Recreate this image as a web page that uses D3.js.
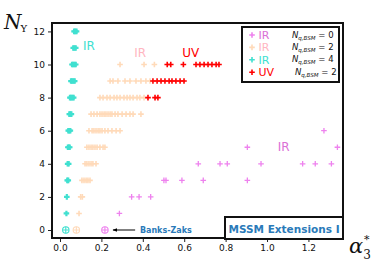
<!DOCTYPE html>
<html><head><meta charset="utf-8">
<script src="https://cdn.jsdelivr.net/npm/d3@7"></script>
<style>body{margin:0;background:#fff}svg{display:block}</style>
</head><body>
<svg id="c" width="374" height="280"></svg>
<script>
// ---- data: [alpha3*, N_Y] ----
const irN0 = [[1.275,6],[0.905,5],[1.34,5],[0.668,4],[0.773,4],[0.808,4],[0.971,4],[1.172,4],[1.233,4],[1.311,4],
  [0.502,3],[0.512,3],[0.589,3],[0.692,3],[0.905,3],[0.346,2],[0.382,2],[0.438,2],[0.287,1]];
const irN2 = [[0.29,10],[0.406,10],[0.456,10],
  [0.242,9],[0.256,9],[0.28,9],[0.314,9],[0.338,9],[0.367,9],[0.391,9],[0.415,9],[0.435,9],
  [0.193,8],[0.208,8],[0.227,8],[0.242,8],[0.261,8],[0.275,8],[0.29,8],[0.309,8],[0.324,8],[0.338,8],[0.353,8],[0.372,8],[0.386,8],[0.406,8],
  [0.150,7],[0.164,7],[0.179,7],[0.193,7],[0.203,7],[0.213,7],[0.222,7],[0.232,7],[0.242,7],[0.251,7],[0.266,7],[0.28,7],[0.3,7],[0.319,7],[0.338,7],[0.353,7],[0.391,7],
  [0.14,6],[0.155,6],[0.164,6],[0.174,6],[0.184,6],[0.193,6],[0.203,6],[0.217,6],[0.232,6],[0.251,6],[0.271,6],[0.29,6],
  [0.13,5],[0.14,5],[0.15,5],[0.159,5],[0.169,5],[0.179,5],[0.193,5],[0.208,5],[0.217,5],
  [0.121,4],[0.13,4],[0.14,4],[0.15,4],[0.159,4],[0.174,4],
  [0.106,3],[0.116,3],[0.126,3],[0.135,3],[0.145,3],[0.100,2],[0.108,2],[0.092,1]];
const irN4 = [[0.068,12],[0.074,12],[0.08,12],[0.064,11],[0.07,11],[0.076,11],[0.058,10],[0.064,10],[0.07,10],[0.076,10],
  [0.053,9],[0.059,9],[0.065,9],[0.071,9],[0.048,8],[0.054,8],[0.06,8],[0.066,8],[0.045,7],[0.05,7],[0.055,7],
  [0.04,6],[0.045,6],[0.05,6],[0.038,5],[0.043,5],[0.047,5],[0.037,4],[0.042,4],[0.035,3],[0.04,3],[0.033,2],[0.031,1]];
const uvN2 = [[0.518,10],[0.535,10],[0.596,10],[0.657,10],[0.676,10],[0.696,10],[0.715,10],[0.734,10],[0.754,10],[0.768,10],
  [0.449,9],[0.469,9],[0.488,9],[0.507,9],[0.527,9],[0.541,9],[0.560,9],[0.580,9],[0.599,9],
  [0.425,8],[0.459,8],[0.473,8]];
const banksZaks = [[0.028,0,"turquoise"],[0.079,0,"peachpuff"],[0.217,0,"violet"]];
const xTicks = [0.0,0.2,0.4,0.6,0.8,1.0,1.2];
const yTicks = [0,2,4,6,8,10,12];
const legendRows = [
  {sym:"violet", lab:"IR", labCol:"orchid", n:"0"},
  {sym:"peachpuff", lab:"IR", labCol:"lightpink", n:"2"},
  {sym:"turquoise", lab:"IR", labCol:"turquoise", n:"4"},
  {sym:"red", lab:"UV", labCol:"red", n:"2"}];

const svg = d3.select("#c");
const L=52, R=343, T=23, B=238;
const x = d3.scaleLinear().domain([-0.0386,1.367]).range([L,R]);
const y = d3.scaleLinear().domain([-0.483,12.508]).range([B,T]);
const plus = "M-2.8,0H2.8M0,-2.8V2.8";

// axes
const gx = svg.append("g").attr("transform",`translate(0,${B})`)
  .call(d3.axisBottom(x).tickValues(xTicks).tickFormat(d3.format(".1f")).tickSize(4).tickPadding(3));
const gy = svg.append("g").attr("transform",`translate(${L},0)`)
  .call(d3.axisLeft(y).tickValues(yTicks).tickSize(4).tickPadding(3));
[gx,gy].forEach(g=>{g.select(".domain").remove();
  g.selectAll("text").attr("font-family","DejaVu Sans").attr("font-size",9).attr("fill","#111");
  g.selectAll("line").attr("stroke","#222");});

function series(data,col,sw){
  svg.append("g").selectAll("path").data(data).join("path")
    .attr("d",plus).attr("transform",d=>`translate(${x(d[0])},${y(d[1])})`)
    .attr("fill","none").attr("stroke",col).attr("stroke-width",sw);
}
series(irN0,"violet",1.3);
series(irN2,"peachpuff",1.6);
series(irN4,"turquoise",2.2);
series(uvN2,"red",1.6);

// Banks-Zaks circled plus
const bz = svg.append("g").selectAll("g").data(banksZaks).join("g")
  .attr("transform",d=>`translate(${x(d[0])},${y(d[1])})`);
bz.append("circle").attr("r",3.2).attr("fill","none").attr("stroke",d=>d[2]).attr("stroke-width",1.1);
bz.append("path").attr("d","M-3.2,0H3.2M0,-3.2V3.2").attr("stroke",d=>d[2]).attr("stroke-width",1.1);

// arrow
svg.append("defs").append("marker").attr("id","ah").attr("viewBox","0 0 10 10").attr("refX",9).attr("refY",5)
  .attr("markerWidth",5).attr("markerHeight",5).attr("orient","auto")
  .append("path").attr("d","M0,1L10,5L0,9z").attr("fill","#000");
svg.append("line").attr("x1",x(0.363)).attr("x2",x(0.256)).attr("y1",y(0)).attr("y2",y(0))
  .attr("stroke","#000").attr("stroke-width",1).attr("marker-end","url(#ah)");
svg.append("text").attr("x",x(0.386)).attr("y",y(0)+3).text("Banks-Zaks")
  .attr("font-family","DejaVu Sans").attr("font-weight","bold").attr("font-size",8).attr("fill","#2a7ab9");

// region labels
const lab=(t,xv,yv,c)=>svg.append("text").attr("x",x(xv)).attr("y",y(yv)).attr("text-anchor","middle")
  .attr("dominant-baseline","central").attr("font-family","DejaVu Sans").attr("font-size",12).attr("fill",c).text(t);
lab("IR",0.14,11.1,"turquoise");
lab("IR",0.387,10.68,"lightpink");
lab("UV",0.631,10.68,"red");
lab("IR",1.08,5.0,"orchid");

// frame
svg.append("rect").attr("x",L).attr("y",T).attr("width",R-L).attr("height",B-T)
  .attr("fill","none").attr("stroke","#111").attr("stroke-width",2);

// legend
const lg = svg.append("g");
lg.append("rect").attr("x",242).attr("y",27).attr("width",97).attr("height",55)
  .attr("fill","#fff").attr("stroke","#111").attr("stroke-width",2);
legendRows.forEach((r,i)=>{
  const yy = 35 + i*12.4;
  lg.append("path").attr("d",plus).attr("transform",`translate(252,${yy})`).attr("fill","none")
    .attr("stroke",r.sym).attr("stroke-width",1.6);
  lg.append("text").attr("x",258.5).attr("y",yy+4).attr("font-family","DejaVu Sans")
    .attr("font-size",11).attr("fill",r.labCol).text(r.lab);
  const t = lg.append("text").attr("x",i===3?295:292).attr("y",yy+2.5).attr("font-family","DejaVu Sans")
    .attr("font-size",8.5).attr("fill","#111");
  t.append("tspan").attr("font-style","italic").text("N");
  t.append("tspan").attr("font-style","italic").attr("font-size",5.5).attr("dy",2).text("q,BSM");
  t.append("tspan").attr("dy",-2).text(" = "+r.n);
});

// MSSM box
svg.append("rect").attr("x",225).attr("y",217).attr("width",118).attr("height",22)
  .attr("fill","#fff").attr("stroke","#111").attr("stroke-width",2);
svg.append("text").attr("x",284).attr("y",228.5).attr("text-anchor","middle").attr("dominant-baseline","central")
  .attr("font-family","DejaVu Sans").attr("font-weight","bold").attr("font-size",10.5).attr("fill","#2a7ab9")
  .text("MSSM Extensions I");

// axis titles
const yl = svg.append("text").attr("x",4).attr("y",29).attr("font-family","DejaVu Serif").attr("fill","#111");
yl.append("tspan").attr("font-style","italic").attr("font-size",20).text("N");
yl.append("tspan").attr("font-size",10).attr("dy",3).attr("dx",-1).text("Y");
const xl = svg.append("text").attr("x",349).attr("y",253).attr("font-family","DejaVu Serif").attr("fill","#111");
xl.append("tspan").attr("font-style","italic").attr("font-size",21).text("α");
xl.append("tspan").attr("font-size",12).attr("dy",6).text("3");
svg.append("text").attr("x",364).attr("y",243).attr("font-family","DejaVu Serif").attr("font-size",11)
  .attr("fill","#111").text("*");
</script>
</body></html>
